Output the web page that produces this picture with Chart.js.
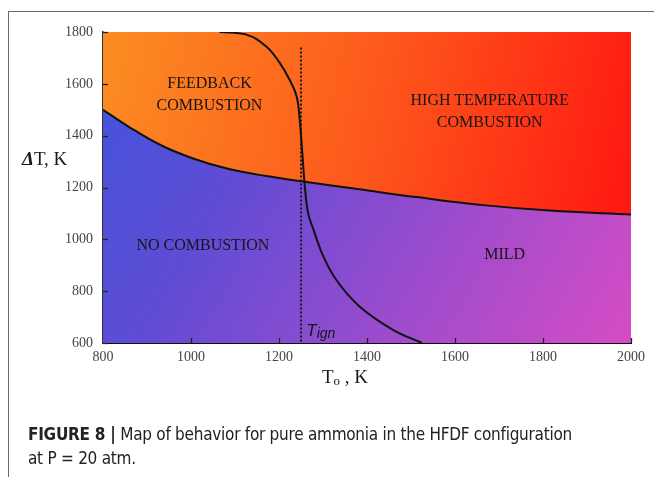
<!DOCTYPE html>
<html>
<head>
<meta charset="utf-8">
<script src="https://cdn.jsdelivr.net/npm/chart.js@4/dist/chart.umd.min.js"></script>
<style>
  html, body { margin: 0; padding: 0; background: #fff; }
  #wrap { position: relative; width: 654px; height: 477px; overflow: hidden; }
  #c { position: absolute; left: 0; top: 0; }
  .rule-top { position: absolute; left: 8px; top: 11px; width: 646px; height: 1px; background: #6a6a6a; }
  .rule-left { position: absolute; left: 8px; top: 11px; width: 1px; height: 466px; background: #6a6a6a; }
  .note { position: absolute; transform: translate(-50%, -50%); font-family: "Liberation Serif", "Times New Roman", serif;
          font-size: 16px; line-height: 22px; color: #151515; text-align: center; white-space: nowrap; }
  .tign { font-family: "Liberation Sans", Arial, sans-serif; font-style: italic; color: #151515; font-size: 17px; }
  .tign sub { font-size: 14px; vertical-align: -2px; }
  .axis-title { position: absolute; font-family: "Liberation Serif", "Times New Roman", serif; font-size: 18px; color: #1a1a1a; white-space: nowrap; }
  .axis-title sub { font-size: 13px; vertical-align: -2px; }
  .caption { position: absolute; left: 28px; top: 422px; font-family: "DejaVu Sans Condensed", "Liberation Sans Narrow", Arial, sans-serif;
             font-size: 17px; line-height: 24px; letter-spacing: -0.26px; color: #222; white-space: nowrap; }
  .caption b { font-weight: bold; }
</style>
</head>
<body>
<div id="wrap">
  <div class="rule-top"></div>
  <div class="rule-left"></div>
  <canvas id="c" width="654" height="477"></canvas>

  <div class="note" data-t="1042" data-dt="1562">FEEDBACK<br>COMBUSTION</div>
  <div class="note" data-t="1679" data-dt="1496">HIGH TEMPERATURE<br>COMBUSTION</div>
  <div class="note" data-t="1027" data-dt="979">NO COMBUSTION</div>
  <div class="note" data-t="1713" data-dt="945">MILD</div>
  <div class="note tign" data-t="1295" data-dt="643">T<sub>ign</sub></div>

  <div class="axis-title" style="left:22px; top:148px; font-size:19px;"><b><i>Δ</i></b>T, K</div>
  <div class="axis-title" style="left:322px; top:366px; font-size:19px;">T<sub>o</sub> , K</div>

  <div class="caption"><b>FIGURE 8 |</b> Map of behavior for pure ammonia in the HFDF configuration<br>at P = 20 atm.</div>
</div>

<script>
// Axis ticks (K)
const tempTicks = [800, 1000, 1200, 1400, 1600, 1800, 2000];
const deltaTicks = [600, 800, 1000, 1200, 1400, 1600, 1800];

// Regime boundary separating combustion (above) from no combustion / MILD (below)
const boundaryT  = [800, 857, 933, 1008, 1084, 1175, 1251, 1387, 1512, 1664, 1815, 2000];
const boundaryDT = [1500, 1436, 1362, 1310, 1272, 1243, 1224, 1192, 1163, 1132, 1111, 1096];

// Auto-ignition curve
const ignitionT  = [1065, 1126, 1171, 1202, 1224, 1240, 1247, 1253, 1258, 1266, 1277, 1299, 1330, 1383, 1459, 1525];
const ignitionDT = [1800, 1790, 1744, 1680, 1616, 1552, 1462, 1333, 1217, 1102, 1044, 941, 844, 741, 651, 600];

// Ignition temperature marker
const ignitionTemp = [1250, 1250];
const ignitionSpan = [1740, 600];

const toPoints = (xs, ys) => xs.map((x, i) => ({ x: x, y: ys[i] }));

function areaGradient(chart, stops, tilt) {
  const a = chart.chartArea;
  if (!a) return 'rgba(0,0,0,0)';
  const g = chart.ctx.createLinearGradient(a.left, a.top, a.right, a.top + (a.bottom - a.top) * tilt);
  stops.forEach(([o, c]) => g.addColorStop(o, c));
  return g;
}
const hotStops  = [[0, '#fb8d22'], [0.5, '#fd5a1c'], [1, '#ff1a12']];
const coldStops = [[0, '#3f55dc'], [0.3, '#5f4cd4'], [0.65, '#9c4ccd'], [1, '#d64cc4']];

// Short inward tick marks along both axes
const innerTicks = {
  id: 'innerTicks',
  afterDraw(chart) {
    const { ctx, chartArea: a, scales } = chart;
    ctx.save();
    ctx.strokeStyle = '#222';
    ctx.lineWidth = 1.3;
    deltaTicks.forEach(v => {
      const y = Math.round(scales.y.getPixelForValue(v)) + 0.5;
      ctx.beginPath(); ctx.moveTo(a.left, y); ctx.lineTo(a.left + 5, y); ctx.stroke();
    });
    tempTicks.slice(1).forEach(v => {
      const x = Math.round(scales.x.getPixelForValue(v)) + 0.5;
      ctx.beginPath(); ctx.moveTo(x, a.bottom); ctx.lineTo(x, a.bottom - 5); ctx.stroke();
    });
    ctx.restore();
  }
};

// Place the in-plot region labels at their data coordinates
const placeNotes = {
  id: 'placeNotes',
  afterRender(chart) {
    document.querySelectorAll('.note').forEach(el => {
      el.style.left = chart.scales.x.getPixelForValue(+el.dataset.t) + 'px';
      el.style.top = chart.scales.y.getPixelForValue(+el.dataset.dt) + 'px';
    });
  }
};

const tickFont = { family: '"Liberation Serif", "Times New Roman", serif', size: 14 };
const plainNumber = v => String(v);

new Chart(document.getElementById('c'), {
  type: 'line',
  data: {
    datasets: [
      {
        data: toPoints(boundaryT, boundaryDT),
        fill: 'end',
        borderWidth: 0,
        pointRadius: 0,
        tension: 0.4,
        backgroundColor: ctx => areaGradient(ctx.chart, hotStops, 0.4),
        order: 4
      },
      {
        data: toPoints(boundaryT, boundaryDT),
        fill: 'start',
        borderColor: '#111',
        borderWidth: 2,
        pointRadius: 0,
        tension: 0.4,
        backgroundColor: ctx => areaGradient(ctx.chart, coldStops, 1),
        order: 3
      },
      {
        data: toPoints(ignitionTemp, ignitionSpan),
        fill: false,
        borderColor: '#1a1a1a',
        borderWidth: 2,
        borderDash: [2, 2],
        pointRadius: 0,
        order: 2
      },
      {
        data: toPoints(ignitionT, ignitionDT),
        fill: false,
        borderColor: '#111',
        borderWidth: 2,
        pointRadius: 0,
        tension: 0.4,
        order: 1
      }
    ]
  },
  options: {
    responsive: false,
    animation: false,
    events: [],
    layout: { padding: { left: 0, top: 32, right: 23, bottom: 0 } },
    plugins: { legend: { display: false }, tooltip: { enabled: false } },
    scales: {
      x: {
        type: 'linear',
        min: 800, max: 2000,
        z: 1,
        afterBuildTicks: s => { s.ticks = tempTicks.map(v => ({ value: v })); },
        afterFit: s => { s.height = 134; },
        ticks: { font: tickFont, color: '#444', padding: 6, maxRotation: 0, callback: plainNumber },
        grid: { display: true, drawOnChartArea: false, drawTicks: false },
        border: { color: '#111', width: 2 }
      },
      y: {
        type: 'linear',
        min: 600, max: 1800,
        z: 1,
        afterBuildTicks: s => { s.ticks = deltaTicks.map(v => ({ value: v })); },
        afterFit: s => { s.width = 103; },
        ticks: { font: tickFont, color: '#444', padding: 10, callback: plainNumber },
        grid: { display: true, drawOnChartArea: false, drawTicks: false },
        border: { color: '#333', width: 1.5 }
      }
    }
  },
  plugins: [innerTicks, placeNotes]
});
</script>
</body>
</html>
